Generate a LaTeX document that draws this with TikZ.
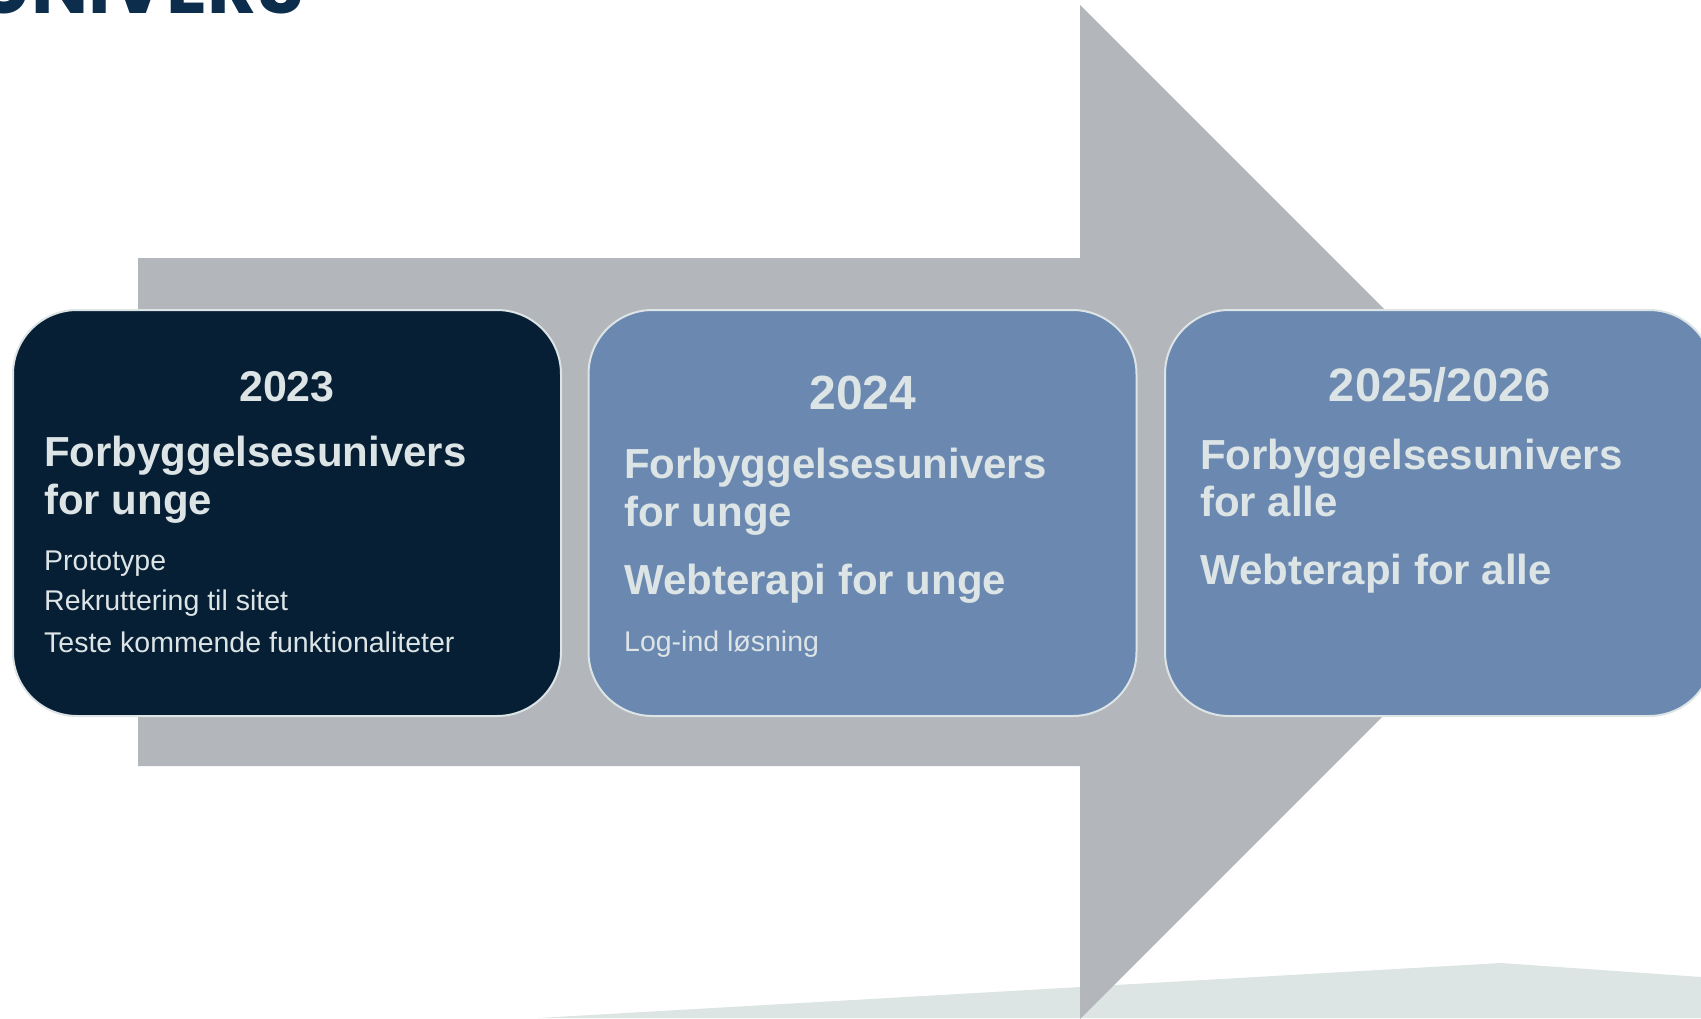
\documentclass[tikz,border=0pt]{standalone}
\usepackage{fontspec}
\setmainfont{Liberation Sans}
\newfontfamily\titlefont{Poppins}
\usetikzlibrary{positioning}
\definecolor{arrowgrey}{RGB}{179,182,186}
\definecolor{groundfill}{RGB}{220,228,228}
\definecolor{navyfill}{RGB}{6,31,53}
\definecolor{steelfill}{RGB}{107,137,176}
\definecolor{paletext}{RGB}{220,228,230}
\definecolor{titlenavy}{RGB}{12,46,76}
\tikzset{
  phase/.style={
    draw=paletext,
    line width=2pt,
    rounded corners=64pt,
    minimum width=548pt,
    minimum height=406pt,
    inner sep=0pt
  },
  yeartext/.style={font=\bfseries\fontsize{43}{48}\selectfont, text=paletext,
    inner sep=0pt, anchor=base},
  headtext/.style={font=\bfseries\fontsize{42}{48}\selectfont, text=paletext,
    inner sep=0pt, anchor=base west},
  itemtext/.style={font=\fontsize{28.5}{40}\selectfont, text=paletext,
    inner sep=0pt, anchor=base west}
}

\begin{document}
\begin{tikzpicture}[x=1pt, y=-1pt]
    \useasboundingbox (0,0) rectangle (1701,1018);
    \clip (0,0) rectangle (1701,1018);

    % ground and arrow
    \fill[groundfill] (538,1018) -- (1501,963) -- (1701,977) -- (1701,1018) -- cycle;
    \fill[arrowgrey] (138,258) -- (1080,258) -- (1080,5) -- (1587,512)
      -- (1080,1019) -- (1080,766) -- (138,766) -- cycle;

    \node[font=\titlefont\bfseries\fontsize{76}{80}\selectfont, text=titlenavy,
      inner sep=0pt, anchor=base east] (title) at (304,13) {UNIVERS};

    % phases
    \node[phase, fill=navyfill] (p2023) at (287,513) {};
    \node[phase, fill=steelfill] (p2024) at (862.5,513) {};
    \node[phase, fill=steelfill] (p2026) at (1439,513) {};

    \node[yeartext] (y2023) at (287,401) {2023};
    \node[headtext] (h2023a) at (44,466) {Forbyggelsesunivers};
    \node[headtext] (h2023b) at (44,514) {for unge};
    \node[itemtext] (i2023a) at (44,570) {Prototype};
    \node[itemtext] (i2023b) at (44,610) {Rekruttering til sitet};
    \node[itemtext] (i2023c) at (44,652) {Teste kommende funktionaliteter};

    \node[yeartext, font=\bfseries\fontsize{48}{52}\selectfont] (y2024) at (863,409) {2024};
    \node[headtext] (h2024a) at (624,478) {Forbyggelsesunivers};
    \node[headtext] (h2024b) at (624,526) {for unge};
    \node[headtext] (h2024c) at (624,594) {Webterapi for unge};
    \node[itemtext] (i2024a) at (624,651) {Log-ind løsning};

    \node[yeartext, font=\bfseries\fontsize{47}{52}\selectfont] (y2026) at (1440,401) {2025/2026};
    \node[headtext] (h2026a) at (1200,469) {Forbyggelsesunivers};
    \node[headtext] (h2026b) at (1200,516) {for alle};
    \node[headtext] (h2026c) at (1200,584) {Webterapi for alle};
\end{tikzpicture}
\end{document}
